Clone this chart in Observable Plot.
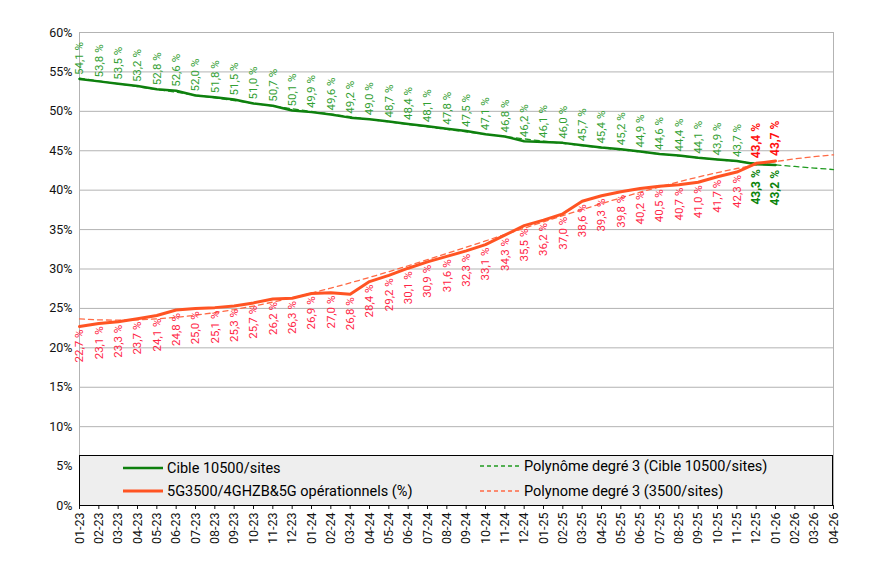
<!DOCTYPE html>
<html>
<head>
<meta charset="utf-8">
<script src="https://cdn.jsdelivr.net/npm/d3@7"></script>
<script src="https://cdn.jsdelivr.net/npm/@observablehq/plot@0.6"></script>
<style>
  body { margin: 0; background: #fff; font-family: Roboto, sans-serif; }
  #wrap { position: relative; width: 874px; height: 572px; }
  #legend { position: absolute; left: 79px; top: 455px; width: 754px; height: 51px; box-sizing: border-box;
            background: #eeeeee; border: 1px solid #000; font-family: Roboto, sans-serif; font-size: 14.5px; color: #000; }
  .item { position: absolute; display: flex; align-items: center; height: 20px; white-space: nowrap; }
  .item svg { margin-right: 4px; }
</style>
</head>
<body>
<div id="wrap"></div>
<script>
// ---- data ----
const months = ["01-23","02-23","03-23","04-23","05-23","06-23","07-23","08-23","09-23","10-23","11-23","12-23",
  "01-24","02-24","03-24","04-24","05-24","06-24","07-24","08-24","09-24","10-24","11-24","12-24",
  "01-25","02-25","03-25","04-25","05-25","06-25","07-25","08-25","09-25","10-25","11-25","12-25",
  "01-26","02-26","03-26","04-26"];
const cible = [54.1,53.8,53.5,53.2,52.8,52.6,52.0,51.8,51.5,51.0,50.7,50.1,49.9,49.6,49.2,49.0,48.7,48.4,48.1,47.8,
  47.5,47.1,46.8,46.2,46.1,46.0,45.7,45.4,45.2,44.9,44.6,44.4,44.1,43.9,43.7,43.3,43.2];
const operationnels = [22.7,23.1,23.3,23.7,24.1,24.8,25.0,25.1,25.3,25.7,26.2,26.3,26.9,27.0,26.8,28.4,29.2,30.1,30.9,31.6,
  32.3,33.1,34.3,35.5,36.2,37.0,38.6,39.3,39.8,40.2,40.5,40.7,41.0,41.7,42.3,43.4,43.7];
const yTicks = [0,5,10,15,20,25,30,35,40,45,50,55,60];
const seriesNames = ["Cible 10500/sites","5G3500/4GHZB&5G opérationnels (%)","Polynôme degré 3 (Cible 10500/sites)","Polynome degré 3 (3500/sites)"];

// ---- cubic least-squares trend (like a spreadsheet trendline) ----
function polyfit(ys, deg) {
  const m = deg + 1;
  const A = Array.from({length: m}, () => Array(m + 1).fill(0));
  ys.forEach((y, i) => {
    const x = i + 1;
    for (let r = 0; r < m; r++) {
      for (let c = 0; c < m; c++) A[r][c] += Math.pow(x, r + c);
      A[r][m] += y * Math.pow(x, r);
    }
  });
  for (let k = 0; k < m; k++) {
    let p = k;
    for (let r = k + 1; r < m; r++) if (Math.abs(A[r][k]) > Math.abs(A[p][k])) p = r;
    [A[k], A[p]] = [A[p], A[k]];
    for (let r = 0; r < m; r++) {
      if (r === k) continue;
      const f = A[r][k] / A[k][k];
      for (let c = k; c <= m; c++) A[r][c] -= f * A[k][c];
    }
  }
  const coef = A.map((row, k) => row[m] / row[k]);
  return x => coef.reduce((s, a, k) => s + a * Math.pow(x, k), 0);
}
const fC = polyfit(cible, 3), fO = polyfit(operationnels, 3);
const trend = months.map((m, i) => ({m, c: fC(i + 1), o: fO(i + 1)}));
const rows = cible.map((c, i) => ({m: months[i], c, o: operationnels[i], i}));
const nLast = rows.length - 2;
const fmt = v => v.toFixed(1).replace(".", ",") + " %";

const GREEN = "#0e800e", GREEN_LBL = "#32a032", GREEN_BOLD = "#0b840b";
const RED = "#ff5423", RED_LBL = "#ff2545", RED_BOLD = "#ff1010";

const chart = Plot.plot({
  width: 874, height: 572,
  marginLeft: 79, marginRight: 41, marginTop: 32, marginBottom: 67,
  style: {fontFamily: "Roboto, sans-serif", fontSize: "12px", color: "#111", background: "#fff", overflow: "visible"},
  x: {type: "point", domain: months, padding: 0, round: false},
  y: {domain: [0, 60]},
  marks: [
    Plot.gridY(yTicks.filter(d => d > 0), {stroke: "#b3b3b3", strokeOpacity: 1}),
    Plot.ruleX([months[0], months[months.length - 1]], {stroke: "#b3b3b3"}),
    Plot.line(trend, {x: "m", y: "c", stroke: "#1f9a1f", strokeWidth: 1.3, strokeDasharray: "5,4"}),
    Plot.line(trend, {x: "m", y: "o", stroke: "#ff6a45", strokeWidth: 1.3, strokeDasharray: "5,4"}),
    Plot.line(rows, {x: "m", y: "c", stroke: GREEN, strokeWidth: 2.5}),
    Plot.line(rows, {x: "m", y: "o", stroke: RED, strokeWidth: 3}),
    Plot.text(rows.filter(d => d.i < nLast), {x: "m", y: "c", text: d => fmt(d.c), rotate: -90, textAnchor: "start", dy: -4, fill: GREEN_LBL, fontSize: 11.5}),
    Plot.text(rows.filter(d => d.i < nLast), {x: "m", y: "o", text: d => fmt(d.o), rotate: -90, textAnchor: "end", dy: 3, fill: RED_LBL, fontSize: 11.5}),
    Plot.text(rows.filter(d => d.i >= nLast), {x: "m", y: "c", text: d => fmt(d.c), rotate: -90, textAnchor: "end", dy: 5, fill: GREEN_BOLD, fontSize: 12, fontWeight: "bold"}),
    Plot.text(rows.filter(d => d.i >= nLast), {x: "m", y: "o", text: d => fmt(d.o), rotate: -90, textAnchor: "start", dy: -5, fill: RED_BOLD, fontSize: 12, fontWeight: "bold"}),
    Plot.axisY({ticks: yTicks, tickFormat: d => d + "%", tickSize: 0, tickPadding: 7, label: null, fontSize: 12.5}),
    Plot.axisX({tickRotate: -90, tickSize: 4, tickPadding: 3, label: null, fontSize: 12.5})
  ]
});
const wrap = document.getElementById("wrap");
wrap.appendChild(chart);

// ---- legend box overlaid at the bottom of the plot ----
const legend = document.createElement("div");
legend.id = "legend";
const items = [
  {name: seriesNames[0], color: GREEN, dash: null, w: 2.5, left: 43, top: 2},
  {name: seriesNames[1], color: RED, dash: null, w: 3, left: 43, top: 25},
  {name: seriesNames[2], color: "#1f9a1f", dash: "4,3", w: 1.3, left: 400, top: 0},
  {name: seriesNames[3], color: "#ff6a45", dash: "4,3", w: 1.3, left: 400, top: 25}
];
for (const it of items) {
  const d = document.createElement("div");
  d.className = "item";
  d.style.left = it.left + "px";
  d.style.top = it.top + "px";
  d.innerHTML = `<svg width="40" height="6"><line x1="0" x2="40" y1="3" y2="3" stroke="${it.color}" stroke-width="${it.w}" ${it.dash ? `stroke-dasharray="${it.dash}"` : ""}/></svg>`;
  const s = document.createElement("span");
  s.textContent = it.name;
  d.appendChild(s);
  legend.appendChild(d);
}
wrap.appendChild(legend);
</script>
</body>
</html>
